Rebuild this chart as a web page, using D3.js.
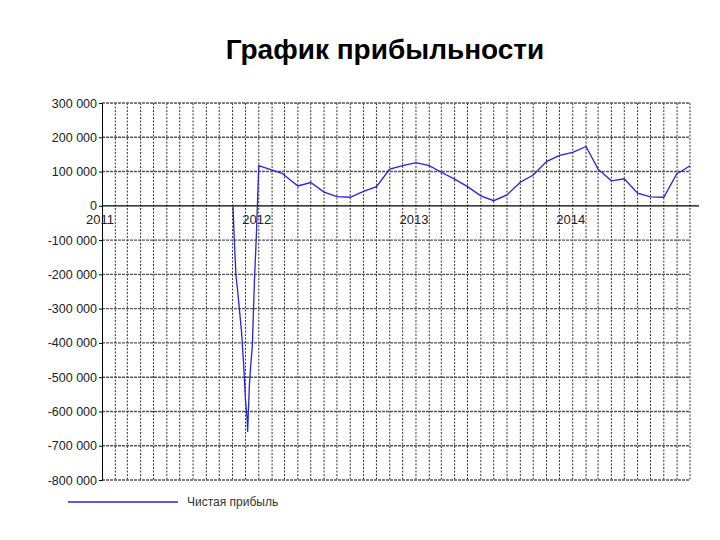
<!DOCTYPE html>
<html>
<head>
  <meta charset="utf-8">
  <title>График прибыльности</title>
  <script src="https://d3js.org/d3.v7.min.js"></script>
  <style>
    body { margin: 0; background: #fff; }
    svg { display: block; }
  </style>
</head>
<body>
  <script>
    // monthly/daily points of net profit
    var dates = [
      "2011-11-02","2011-11-05","2011-11-09","2011-11-13","2011-11-17","2011-11-22",
      "2011-11-27","2011-12-01","2011-12-05","2011-12-06","2011-12-10","2011-12-13",
      "2011-12-17","2011-12-22","2011-12-26","2012-01-01",
      "2012-02-24","2012-04-01","2012-05-01","2012-06-01","2012-07-01","2012-08-01",
      "2012-09-01","2012-10-01","2012-11-01","2012-12-01","2013-01-01","2013-02-01",
      "2013-03-01","2013-04-01","2013-05-01","2013-06-01","2013-07-01","2013-08-01",
      "2013-09-01","2013-10-01","2013-11-01","2013-12-01","2014-01-01","2014-02-01",
      "2014-03-01","2014-04-01","2014-05-01","2014-06-01","2014-07-01","2014-08-01",
      "2014-09-01","2014-09-10","2014-10-01"
    ];
    var profit = [
      0,-100000,-205000,-250000,-303000,-370000,
      -468000,-565000,-624000,-660000,-527000,-468000,
      -410000,-216000,-100000,117000,
      95000,58000,68000,40000,27000,25000,
      42000,56000,107000,117000,126000,117000,
      98000,78000,56000,29000,15000,32000,
      69000,90000,129000,147000,156000,173000,
      107000,73000,79000,37000,26000,25000,
      95000,100000,117000
    ];
    var yTicks = [300000,200000,100000,0,-100000,-200000,-300000,-400000,-500000,-600000,-700000,-800000];
    var yearLabels = ["2011","2012","2013","2014"];
    var seriesName = "Чистая прибыль";

    var w = 720, h = 540;
    var font = "Liberation Sans, Arial, sans-serif";
    var parse = d3.timeParse("%Y-%m-%d");
    var data = dates.map(function(d, i) { return {date: parse(d), value: profit[i]}; });

    var svg = d3.select("body").append("svg")
      .attr("width", w).attr("height", h);

    svg.append("text")
      .attr("x", 385).attr("y", 59)
      .attr("text-anchor", "middle")
      .attr("font-family", font)
      .attr("font-weight", "bold")
      .attr("font-size", 28)
      .attr("fill", "#000")
      .text("График прибыльности");

    var x = d3.scaleTime()
      .domain([parse("2011-01-01"), parse("2014-10-01")])
      .range([102, 690]);
    var y = d3.scaleLinear()
      .domain([-800000, 300000])
      .range([480, 103]);

    // vertical monthly grid
    var months = d3.timeMonth.range(parse("2011-02-01"), parse("2014-10-02"));
    svg.append("g").selectAll("line")
      .data(months)
      .enter().append("line")
      .attr("x1", function(d) { return x(d); })
      .attr("x2", function(d) { return x(d); })
      .attr("y1", y(300000)).attr("y2", y(-800000))
      .attr("stroke", "#333")
      .attr("stroke-width", 1)
      .attr("stroke-dasharray", "2,1.5");

    // horizontal grid
    svg.append("g").selectAll("line")
      .data(yTicks.filter(function(v) { return v !== 0; }))
      .enter().append("line")
      .attr("x1", 102).attr("x2", x.range()[1])
      .attr("y1", function(d) { return y(d); })
      .attr("y2", function(d) { return y(d); })
      .attr("stroke", "#555")
      .attr("stroke-width", 1.4)
      .attr("stroke-dasharray", "3,1");

    // y axis
    var yAxis = d3.axisLeft(y)
      .tickValues(yTicks)
      .tickSize(3)
      .tickFormat(function(d) { return d3.format(",")(d).replace(/,/g, " ").replace("\u2212", "-"); });
    var ya = svg.append("g")
      .attr("transform", "translate(102,0)")
      .call(yAxis);
    ya.select(".domain").attr("stroke", "#000");
    ya.selectAll("text")
      .attr("font-family", font)
      .attr("font-size", 12.5)
      .attr("fill", "#222")
      .attr("x", -5);

    // zero line (time axis)
    svg.append("line")
      .attr("x1", 102).attr("x2", 699)
      .attr("y1", y(0)).attr("y2", y(0))
      .attr("stroke", "#000").attr("stroke-width", 1.2);

    svg.append("g").selectAll("text")
      .data(yearLabels)
      .enter().append("text")
      .attr("x", function(d) { return x(parse(d + "-01-01")) - 2; })
      .attr("y", y(0) + 18)
      .attr("text-anchor", "middle")
      .attr("font-family", font)
      .attr("font-size", 13)
      .attr("fill", "#222")
      .text(function(d) { return d; });

    // series
    var line = d3.line()
      .x(function(d) { return x(d.date); })
      .y(function(d) { return y(d.value); });
    svg.append("path")
      .datum(data)
      .attr("d", line)
      .attr("fill", "none")
      .attr("stroke", "#2424d8")
      .attr("stroke-width", 1.3);

    // legend
    svg.append("line")
      .attr("x1", 68).attr("x2", 178)
      .attr("y1", 502).attr("y2", 502)
      .attr("stroke", "#2424d8").attr("stroke-width", 1.3);
    svg.append("text")
      .attr("x", 187).attr("y", 506)
      .attr("font-family", font)
      .attr("font-size", 12)
      .attr("fill", "#333")
      .text(seriesName);
  </script>
</body>
</html>
